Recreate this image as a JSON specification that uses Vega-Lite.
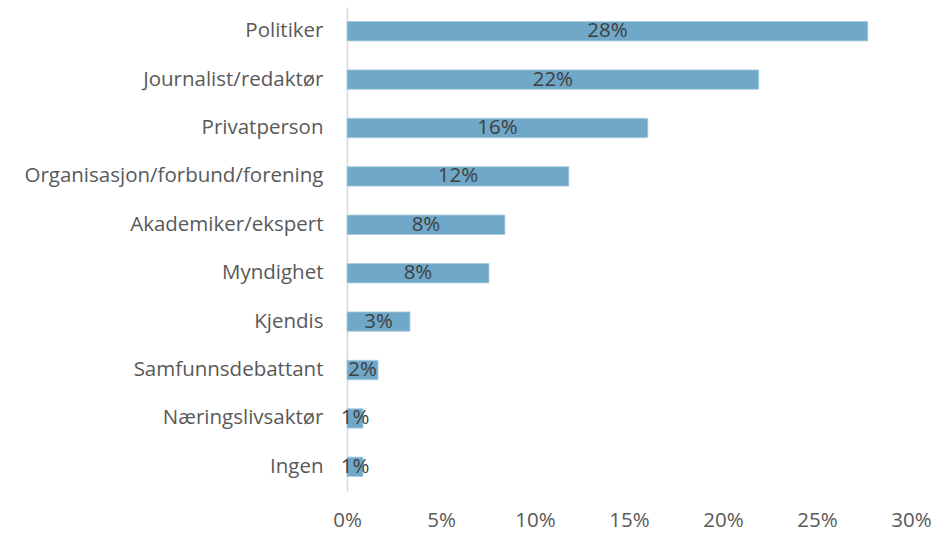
{
  "$schema": "https://vega.github.io/schema/vega-lite/v6.json",
  "width": 564,
  "height": 484,
  "autosize": {"type": "none"},
  "padding": {"left": 347, "top": 7, "right": 26, "bottom": 42},
  "background": "white",
  "config": {"view": {"stroke": null}, "font": "Open Sans"},
  "data": {"values": [
    {"category": "Politiker", "value": 0.277},
    {"category": "Journalist/redaktør", "value": 0.219},
    {"category": "Privatperson", "value": 0.160},
    {"category": "Organisasjon/forbund/forening", "value": 0.118},
    {"category": "Akademiker/ekspert", "value": 0.084},
    {"category": "Myndighet", "value": 0.0755},
    {"category": "Kjendis", "value": 0.0335},
    {"category": "Samfunnsdebattant", "value": 0.0165},
    {"category": "Næringslivsaktør", "value": 0.0085},
    {"category": "Ingen", "value": 0.0085}
  ]},
  "encoding": {
    "y": {"field": "category", "type": "nominal", "sort": null,
      "scale": {"paddingInner": 0.6, "paddingOuter": 0.3},
      "axis": {"title": null, "ticks": false, "domainColor": "#d9d9d9", "domainWidth": 1.5, "labelFontSize": 20.5, "labelColor": "#595959", "labelPadding": 24, "labelLimit": 400}}
  },
  "layer": [
    {"mark": {"type": "bar", "color": "#6fa8c8", "stroke": "#a9cde0", "strokeWidth": 0.8},
      "encoding": {
        "x": {"field": "value", "type": "quantitative",
          "scale": {"domain": [0, 0.3], "nice": false},
          "axis": {"title": null, "format": ".0%", "values": [0, 0.05, 0.1, 0.15, 0.2, 0.25, 0.3], "grid": false, "domain": false, "ticks": false, "labelFontSize": 20.5, "labelColor": "#595959", "labelPadding": 19, "labelFlush": false}}
      }},
    {"mark": {"type": "text", "fontSize": 20.5, "color": "#404040", "baseline": "middle", "align": "center"},
      "encoding": {
        "x": {"field": "value", "type": "quantitative", "scale": {"domain": [0, 0.6], "nice": false}, "axis": null},
        "text": {"field": "value", "type": "quantitative", "format": ".0%"}
      }}
  ],
  "resolve": {"scale": {"x": "independent"}, "axis": {"x": "independent"}}
}
